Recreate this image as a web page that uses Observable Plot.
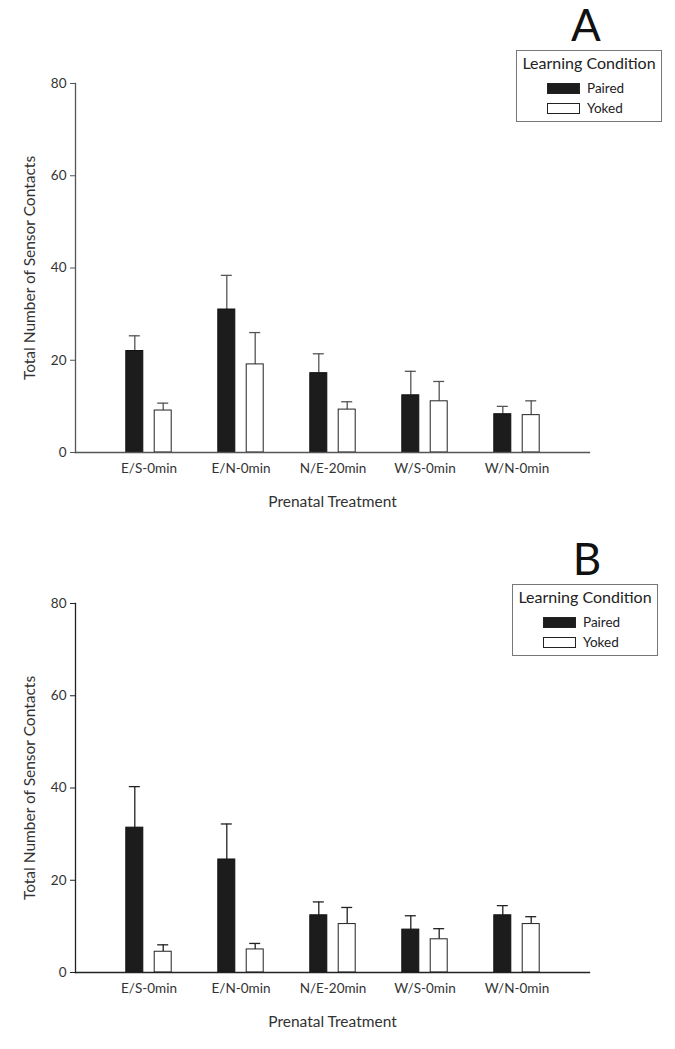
<!DOCTYPE html>
<html>
<head>
<meta charset="utf-8">
<script src="https://cdn.jsdelivr.net/npm/d3@7"></script>
<script src="https://cdn.jsdelivr.net/npm/@observablehq/plot@0.6"></script>
<style>
  html, body { margin: 0; padding: 0; background: #fff; }
  body { width: 675px; height: 1049px; position: relative; font-family: Lato, "Open Sans", sans-serif; }
  .panel { position: absolute; left: 0; width: 675px; height: 520px; }
  .panel svg { position: absolute; left: 0; top: 0; }
  .letter { position: absolute; font-size: 44px; line-height: 1; color: #111; transform: translateX(-50%); }
  .legend { position: absolute; border: 1px solid #777; background: #fff; box-sizing: border-box; color: #222; }
  .legend .ttl { position: absolute; left: 0; right: 0; top: 2px; text-align: center; font-size: 16px; }
  .legend .sw { position: absolute; width: 31px; height: 9px; border: 1px solid #222; }
  .legend .lab { position: absolute; font-size: 13.5px; line-height: 1; }
  g[aria-label="y-axis label"] text, g[aria-label="x-axis label"] text { font-size: 15.5px; }
</style>
</head>
<body>
<script>
const categories = ["E/S-0min", "E/N-0min", "N/E-20min", "W/S-0min", "W/N-0min"];
const conditions = ["Paired", "Yoked"];
const pairedA = [22.0, 31.0, 17.2, 12.4, 8.3];
const pairedErrA = [3.3, 7.4, 4.2, 5.2, 1.7];
const yokedA = [9.1, 19.1, 9.3, 11.1, 8.1];
const yokedErrA = [1.6, 6.9, 1.7, 4.3, 3.1];
const pairedB = [31.4, 24.5, 12.4, 9.3, 12.4];
const pairedErrB = [8.9, 7.7, 2.9, 3.0, 2.1];
const yokedB = [4.5, 5.0, 10.5, 7.2, 10.5];
const yokedErrB = [1.5, 1.3, 3.6, 2.3, 1.6];
const yTicks = [0, 20, 40, 60, 80];

function rows(vals, errs, cond) {
  return categories.map((c, i) => ({cat: c, cond, value: vals[i], hi: vals[i] + errs[i]}));
}

function panel(opts) {
  const wrap = document.createElement("div");
  wrap.className = "panel";
  wrap.style.top = opts.top + "px";
  const paired = rows(opts.paired, opts.pairedErr, conditions[0]);
  const yoked = rows(opts.yoked, opts.yokedErr, conditions[1]);
  const ink = opts.ink;
  const off = 14.2;
  const chart = Plot.plot({
    width: 675,
    height: 520,
    marginTop: 83,
    marginBottom: 68,
    marginLeft: 75,
    marginRight: 86,
    style: {fontFamily: "Lato, 'Open Sans', sans-serif", fontSize: "13.5px", color: "#333", background: "#fff"},
    x: {domain: categories, paddingInner: 0.817, paddingOuter: 0.672},
    y: {domain: [0, 80]},
    marks: [
      Plot.ruleX(paired, {x: "cat", y1: "value", y2: "hi", dx: -off, stroke: ink, strokeWidth: 1.3}),
      Plot.tickY(paired, {x: "cat", y: "hi", dx: -off, insetLeft: 3, insetRight: 3, stroke: ink, strokeWidth: 1.3}),
      Plot.ruleX(yoked, {x: "cat", y1: "value", y2: "hi", dx: off, stroke: ink, strokeWidth: 1.3}),
      Plot.tickY(yoked, {x: "cat", y: "hi", dx: off, insetLeft: 3, insetRight: 3, stroke: ink, strokeWidth: 1.3}),
      Plot.barY(paired, {x: "cat", y: "value", dx: -off, fill: "#1c1c1c", stroke: "#111", strokeWidth: 1}),
      Plot.barY(yoked, {x: "cat", y: "value", dx: off, fill: "#fff", stroke: "#222", strokeWidth: 1}),
      Plot.frame({anchor: "left", stroke: ink, strokeWidth: 1.3}),
      Plot.frame({anchor: "bottom", stroke: ink, strokeWidth: 1.3}),
      Plot.axisY({ticks: yTicks, tickSize: 5, tickPadding: 4, stroke: ink, label: "Total Number of Sensor Contacts", labelArrow: false, labelAnchor: "center", labelOffset: 52}),
      Plot.axisX({tickSize: 0, tickPadding: 11, label: "Prenatal Treatment", labelArrow: false, labelAnchor: "center", labelOffset: 54})
    ]
  });
  chart.querySelectorAll('g[aria-label$="axis label"] text').forEach(t => {
    t.textContent = t.textContent.replace(/\s*[→↑←↓]\s*/g, "").trim();
  });
  wrap.appendChild(chart);

  const letter = document.createElement("div");
  letter.className = "letter";
  letter.textContent = opts.letter;
  letter.style.left = opts.lx + "px";
  letter.style.top = opts.ly + "px";
  wrap.appendChild(letter);

  const lg = document.createElement("div");
  lg.className = "legend";
  lg.style.left = opts.bx + "px";
  lg.style.top = opts.by + "px";
  lg.style.width = "146px";
  lg.style.height = "72px";
  lg.innerHTML = `<div class="ttl">Learning Condition</div>
    <div class="sw" style="left:30px;top:32px;background:#1c1c1c"></div>
    <div class="lab" style="left:70px;top:31px">${conditions[0]}</div>
    <div class="sw" style="left:30px;top:52px;background:#fff"></div>
    <div class="lab" style="left:70px;top:51px">${conditions[1]}</div>`;
  wrap.appendChild(lg);
  document.body.appendChild(wrap);
}

panel({top: 0, paired: pairedA, pairedErr: pairedErrA, yoked: yokedA, yokedErr: yokedErrA,
  ink: "#555", letter: "A", lx: 586, ly: 2, bx: 516, by: 50});
panel({top: 520, paired: pairedB, pairedErr: pairedErrB, yoked: yokedB, yokedErr: yokedErrB,
  ink: "#222", letter: "B", lx: 587, ly: 16, bx: 512, by: 64});
</script>
</body>
</html>
